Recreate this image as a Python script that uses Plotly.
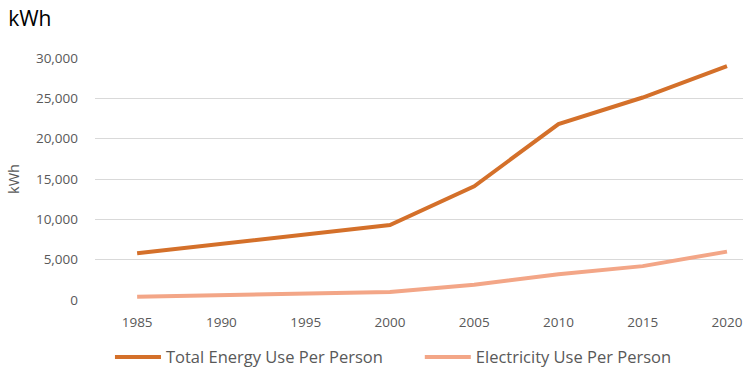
import plotly.graph_objects as go

years = [1985, 1990, 1995, 2000, 2005, 2010, 2015, 2020]
total_energy = [5800, 7000, 8150, 9300, 14100, 21800, 25100, 29000]
electricity = [400, 600, 800, 1000, 1900, 3200, 4200, 6000]

FONT = "Open Sans, Lato, DejaVu Sans, sans-serif"
GRAY = "#595959"

fig = go.Figure()
fig.add_trace(go.Scatter(
    x=years, y=total_energy, mode="lines", name="Total Energy Use Per Person",
    line=dict(color="#D4702A", width=4), legend="legend",
))
fig.add_trace(go.Scatter(
    x=years, y=electricity, mode="lines", name="Electricity Use Per Person",
    line=dict(color="#F3A687", width=4), legend="legend2",
))

legend_style = dict(orientation="h", xanchor="left", xref="container",
                    yref="container", y=0.032, yanchor="middle",
                    font=dict(size=16.5, color=GRAY), itemwidth=46,
                    itemclick=False, bgcolor="rgba(0,0,0,0)")

fig.update_layout(
    width=743, height=369,
    margin=dict(l=95, r=0, t=58, b=69, autoexpand=False),
    paper_bgcolor="white", plot_bgcolor="white",
    font=dict(family=FONT, color=GRAY, size=13),
    title=dict(text="kWh", x=0.011, xanchor="left", y=0.95, yanchor="middle",
               font=dict(size=21, color="#000000", family=FONT)),
    showlegend=True,
    legend=dict(x=0.148, **legend_style),
    legend2=dict(x=0.565, **legend_style),
    xaxis=dict(
        range=[1982.5, 2020.95], tickvals=years, ticktext=[str(y) for y in years],
        showgrid=False, zeroline=False, showline=False, ticks="",
        ticklabelstandoff=12, tickfont=dict(size=13.5, color=GRAY),
    ),
    yaxis=dict(
        range=[0, 30000], tickvals=[0, 5000, 10000, 15000, 20000, 25000, 30000],
        tickformat=",d", showgrid=True, gridcolor="#D9D9D9", gridwidth=1,
        zeroline=False, showline=False, ticks="", ticklabelstandoff=16,
        tickfont=dict(size=13.5, color=GRAY),
        title=dict(text="kWh", font=dict(size=14.5, color=GRAY), standoff=12),
    ),
)

fig.write_html("out.html")
